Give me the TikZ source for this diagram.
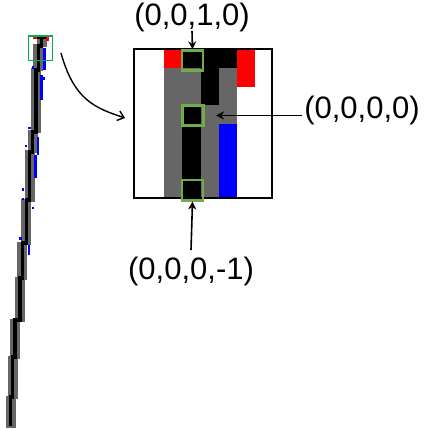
\documentclass[tikz,border=0pt]{standalone}
\usepackage{fontspec}
\setmainfont{Liberation Sans}
\usetikzlibrary{arrows.meta}
\definecolor{pxgray}{HTML}{666666}
\definecolor{pxblue}{HTML}{0000FF}
\definecolor{pxred}{HTML}{FF0000}
\definecolor{boxgreen}{HTML}{70AD47}
\definecolor{stripgreen}{HTML}{00B050}
\tikzset{
  lbl/.style={font=\fontsize{31}{37}\selectfont, inner sep=0pt},
  ptr/.style={line width=1.6pt, -{Stealth[length=8pt,width=8pt]}},
  gbox/.style={draw=boxgreen, line width=2.4pt, minimum width=21pt, minimum height=20pt, inner sep=0pt},
}
\newcommand{\stripseg}[3]{%
  \fill[pxgray] (#1-5,#2-1.5) rectangle (#1+5,#3+1.5);
}
\newcommand{\stripcore}[3]{%
  \fill[black] (#1-1.7,#2) rectangle (#1+1.7,#3);
}
% jog: upper x, lower x, y
\newcommand{\stripjog}[3]{%
  \fill[black] (#2-1.7,#3-1.7) rectangle (#1+1.7,#3+1.7);
}
\begin{document}
\begin{tikzpicture}[x=1pt,y=-1pt]
\useasboundingbox (0,0) rectangle (423,430);
% ---------- strip ----------
\stripseg{41.6}{40.5}{46}
\stripseg{38.4}{46}{70}
\stripseg{35.8}{70}{132}
\stripseg{32.5}{132}{152}
\stripseg{29.5}{152}{200}
\stripseg{26.2}{200}{243}
\stripseg{22.3}{243}{278}
\stripseg{20}{278}{320}
\stripseg{15}{320}{357}
\stripseg{12.5}{357}{397}
\stripseg{10.5}{397}{426}
\stripcore{41.6}{37}{46}
\stripcore{38.4}{46}{70}
\stripcore{35.8}{70}{132}
\stripcore{32.5}{132}{152}
\stripcore{29.5}{152}{200}
\stripcore{26.2}{200}{243}
\stripcore{22.3}{243}{278}
\stripcore{20}{278}{320}
\stripcore{15}{320}{357}
\stripcore{12.5}{357}{397}
\stripcore{10.5}{397}{426}
\stripjog{41.6}{38.4}{46}
\stripjog{38.4}{35.8}{70}
\stripjog{35.8}{32.5}{132}
\stripjog{32.5}{29.5}{152}
\stripjog{29.5}{26.2}{200}
\stripjog{26.2}{22.3}{243}
\stripjog{22.3}{20}{278}
\stripjog{20}{15}{320}
\stripjog{15}{12.5}{357}
\stripjog{12.5}{10.5}{397}
% top of strip
\fill[black] (36.6,35.7) rectangle (46,39.1);
\fill[pxred] (33.4,35.7) rectangle (36.6,39.1);
\fill[pxred] (46,35.7) rectangle (48.8,41.5);
% blue bits
\fill[pxblue] (42.7,48) rectangle (45.5,70);
\fill[pxblue] (31.7,66.5) rectangle (34,69);
\fill[pxblue] (40,75) rectangle (42.7,100);
\fill[pxblue] (42.7,77.5) rectangle (45.3,80.5);
\fill[pxblue] (28.3,126.7) rectangle (30.7,129.5);
\fill[pxblue] (36.7,137) rectangle (39.3,155);
\fill[pxblue] (34.3,155) rectangle (36.7,178);
\fill[pxblue] (25,145) rectangle (27.3,147.5);
\fill[pxblue] (21.7,188.3) rectangle (24,190.7);
\fill[pxblue] (21.7,197.5) rectangle (24,200);
\fill[pxblue] (31.5,206.5) rectangle (34,209);
\fill[pxblue] (19,237) rectangle (21.5,239.5);
\fill[pxblue] (27.7,245) rectangle (30,255);
% strip box
\node[draw=stripgreen, line width=1.2pt, minimum width=24pt, minimum height=24.5pt, inner sep=0pt] (sbox) at (40.5,48.2) {};
% ---------- inset ----------
\fill[pxgray] (164,68.5) rectangle (237,198);
\fill[pxred] (164,49) rectangle (182,68.5);
\fill[black] (182,49) rectangle (237,68.5);
\fill[pxred] (237,49) rectangle (255,87);
\fill[black] (200.5,68.5) rectangle (218.5,105.5);
\fill[black] (182,105.5) rectangle (200.5,198);
\fill[pxblue] (218.5,124) rectangle (237,198);
\node[draw=black, line width=1.8pt, minimum width=138pt, minimum height=149pt, inner sep=0pt] (inset) at (203,123.5) {};
\node[gbox] (g1) at (192.5,60.5) {};
\node[gbox] (g2) at (193,115.5) {};
\node[gbox] (g3) at (192.5,190.3) {};
% ---------- labels ----------
\node[lbl] (l1) at (192,17) {(0,0,1,0)};
\node[lbl] (l2) at (362,110) {(0,0,0,0)};
\node[lbl] (l3) at (191,271) {(0,0,0,-1)};
\coordinate (a2s) at (302,115.5);
\coordinate (a2e) at (216,115.5);
\coordinate (a1s) at (192,31);
\coordinate (a3s) at (191,250);
\draw[ptr] (a1s) -- (g1.north);
\draw[ptr] (a2s) -- (a2e);
\draw[ptr] (a3s) -- (g3.south);
% curved arrow
\coordinate (cs) at (61,53);
\coordinate (ce) at (125,118);
\draw[line width=1.4pt, -{Straight Barb[length=6pt,width=10pt]}] (cs) .. controls (74,100) and (95,108) .. (ce);
\end{tikzpicture}
\end{document}
